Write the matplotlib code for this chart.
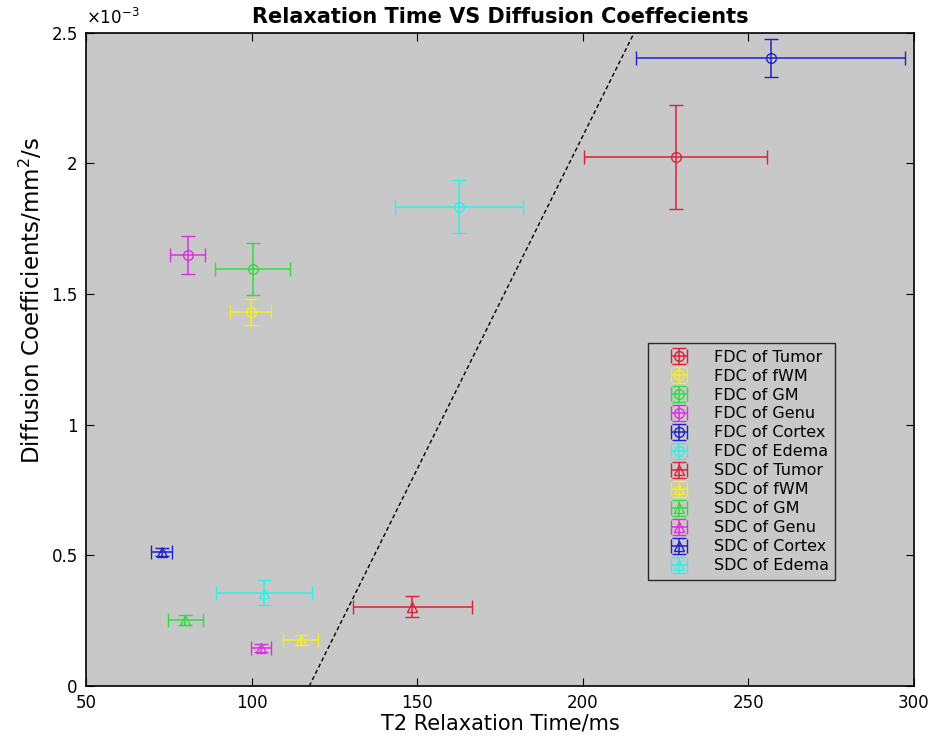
import numpy as np
import matplotlib
matplotlib.use("Agg")
from matplotlib import pyplot as plt
from matplotlib.ticker import FuncFormatter

# T2 relaxation time (ms) and diffusion coefficients (mm^2/s)
regions = ["Tumor", "fWM", "GM", "Genu", "Cortex", "Edema"]
colors = ["#dc2038", "#f0f020", "#30dc40", "#dc30e0", "#2020c8", "#30f0e8"]

fdc_t2 = [228.0, 99.8, 100.3, 80.7, 256.7, 162.6]
fdc_t2_err = [27.6, 6.2, 11.3, 5.3, 40.7, 19.3]
fdc_val = [2.025e-3, 1.430e-3, 1.596e-3, 1.650e-3, 2.405e-3, 1.835e-3]
fdc_err = [0.20e-3, 0.05e-3, 0.10e-3, 0.073e-3, 0.073e-3, 0.10e-3]

sdc_t2 = [148.5, 114.8, 80.0, 102.8, 72.8, 103.7]
sdc_t2_err = [18.0, 5.3, 5.3, 3.0, 3.2, 14.4]
sdc_val = [0.304e-3, 0.177e-3, 0.254e-3, 0.145e-3, 0.512e-3, 0.357e-3]
sdc_err = [0.04e-3, 0.02e-3, 0.02e-3, 0.015e-3, 0.015e-3, 0.048e-3]

# dashed separating line
line_x = [117.4, 215.5]
line_y = [0.0, 2.5e-3]

fig = plt.figure(figsize=(9.35, 7.45), dpi=100)
ax = fig.add_axes([0.092, 0.079, 0.8855, 0.877])
ax.set_facecolor("#c8c8c8")

for i in range(6):
    ax.errorbar(fdc_t2[i], fdc_val[i], xerr=fdc_t2_err[i], yerr=fdc_err[i],
                fmt='o', mfc='none', color=colors[i], ms=7, lw=1.1,
                capsize=5, label="FDC of " + regions[i])
for i in range(6):
    ax.errorbar(sdc_t2[i], sdc_val[i], xerr=sdc_t2_err[i], yerr=sdc_err[i],
                fmt='^', mfc='none', color=colors[i], ms=7, lw=1.1,
                capsize=5, label="SDC of " + regions[i])

ax.plot(line_x, line_y, 'k--', lw=1, dashes=(3, 2))

ax.set_xlim(50, 300)
ax.set_ylim(0, 2.5e-3)
ax.set_xticks([50, 100, 150, 200, 250, 300])
ax.set_yticks([0, 0.5e-3, 1e-3, 1.5e-3, 2e-3, 2.5e-3])
ax.yaxis.set_major_formatter(FuncFormatter(lambda v, p: "%g" % round(v * 1e3, 3)))
ax.text(0.0, 1.008, r"$\times10^{-3}$", transform=ax.transAxes, fontsize=12,
        ha='left', va='bottom')
ax.tick_params(direction='in', top=True, right=True, labelsize=12, length=6, pad=6)
for s in ax.spines.values():
    s.set_linewidth(1.2)

ax.set_title("Relaxation Time VS Diffusion Coeffecients", fontsize=15,
             fontweight='bold', pad=7)
ax.set_xlabel("T2 Relaxation Time/ms", fontsize=15, labelpad=1)
ax.set_ylabel("Diffusion Coefficients/mm$^2$/s", fontsize=16.5)
ax.yaxis.set_label_coords(-0.05, 0.59)

leg = ax.legend(loc='upper left', bbox_to_anchor=(0.679, 0.525), fontsize=11.5,
                frameon=True, fancybox=False, facecolor="#c8c8c8",
                edgecolor='black', labelspacing=0.25, borderaxespad=0,
                handlelength=3.0, handletextpad=0.7)
leg.get_frame().set_linewidth(1.0)

fig.savefig("out.png", dpi=100)
